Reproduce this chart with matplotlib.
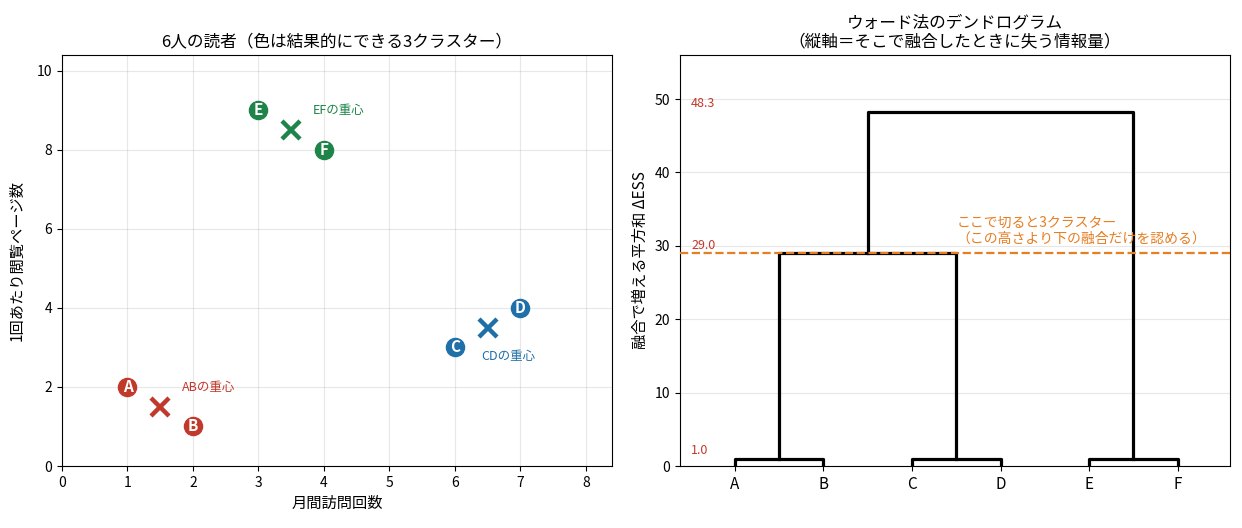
import matplotlib
matplotlib.use("Agg")
import matplotlib.pyplot as plt
import matplotlib.transforms as mtransforms

plt.rcParams['font.family'] = ['Noto Sans CJK JP', 'DejaVu Sans']

# readers
names = ['A', 'B', 'C', 'D', 'E', 'F']
visits = [1, 2, 6, 7, 3, 4]
pages = [2, 1, 3, 4, 9, 8]
cluster = [0, 0, 1, 1, 2, 2]
colors = ['#c0392b', '#1f6fa8', '#1e8449']

# centroids of each cluster and their labels
cent_x = [1.5, 6.5, 3.5]
cent_y = [1.5, 3.5, 8.5]
cent_labels = ['ABの重心', 'CDの重心', 'EFの重心']
cent_label_x = [1.83, 6.4, 3.83]
cent_label_y = [1.98, 2.78, 9.0]

# dendrogram merges: (left x, right x, left child height, right child height, merge height)
merge_left = [0, 2, 4, 0.5, 1.5]
merge_right = [1, 3, 5, 2.5, 4.5]
child_left_h = [0, 0, 0, 1.0, 29.0]
child_right_h = [0, 0, 0, 1.0, 1.0]
merge_h = [1.0, 1.0, 1.0, 29.0, 48.3]
shown_h = [48.3, 29.0, 1.0]
cut_h = 29.0

fig = plt.figure(figsize=(12.42, 5.28), dpi=100)
ax1 = fig.add_axes([62/1242, 62/528, 550/1242, 411/528])
ax2 = fig.add_axes([680/1242, 62/528, 550/1242, 411/528])

# ---- left: scatter
for i in range(len(names)):
    c = colors[cluster[i]]
    ax1.scatter(visits[i], pages[i], s=170, color=c, zorder=3)
    ax1.text(visits[i], pages[i], names[i], color='white', fontsize=11, fontweight='bold',
             ha='center', va='center', zorder=4)
for k in range(3):
    ax1.plot(cent_x[k], cent_y[k], marker='x', color=colors[k], markersize=13, mew=3.2,
             linestyle='none', zorder=3)
    ax1.text(cent_label_x[k], cent_label_y[k], cent_labels[k], color=colors[k], fontsize=9,
             va='center', ha='left')
ax1.set_xlim(0, 8.4)
ax1.set_ylim(0, 10.4)
ax1.grid(True, alpha=0.3)
ax1.set_xlabel('月間訪問回数', fontsize=11)
ax1.set_ylabel('1回あたり閲覧ページ数', fontsize=11, labelpad=8)
ax1.set_title('6人の読者（色は結果的にできる3クラスター）', fontsize=12)

# ---- right: dendrogram
for i in range(len(merge_h)):
    ax2.plot([merge_left[i], merge_left[i], merge_right[i], merge_right[i]],
             [child_left_h[i], merge_h[i], merge_h[i], child_right_h[i]],
             color='black', lw=2.3, zorder=2)
ax2.axhline(cut_h, color='#e67e22', linestyle='--', lw=1.6, zorder=3)
ax2.text(2.5, cut_h + 1.0, 'ここで切ると3クラスター\n（この高さより下の融合だけを認める）',
         color='#e67e22', fontsize=10, ha='left', va='bottom')
trans = mtransforms.blended_transform_factory(ax2.transAxes, ax2.transData)
for h in shown_h:
    ax2.text(0.02, h + 0.2, f'{h:.1f}', color='#c0392b', fontsize=9, transform=trans,
             ha='left', va='bottom')
ax2.set_xticks(range(len(names)))
ax2.set_xticklabels(names, fontsize=11)
ax2.set_xlim(-0.62, 5.59)
ax2.set_ylim(0, 56)
ax2.grid(True, axis='y', alpha=0.3)
ax2.set_ylabel('融合で増える平方和 ΔESS', fontsize=11)
ax2.set_title('ウォード法のデンドログラム\n（縦軸＝そこで融合したときに失う情報量）', fontsize=12)

fig.savefig('out.png', dpi=100)
